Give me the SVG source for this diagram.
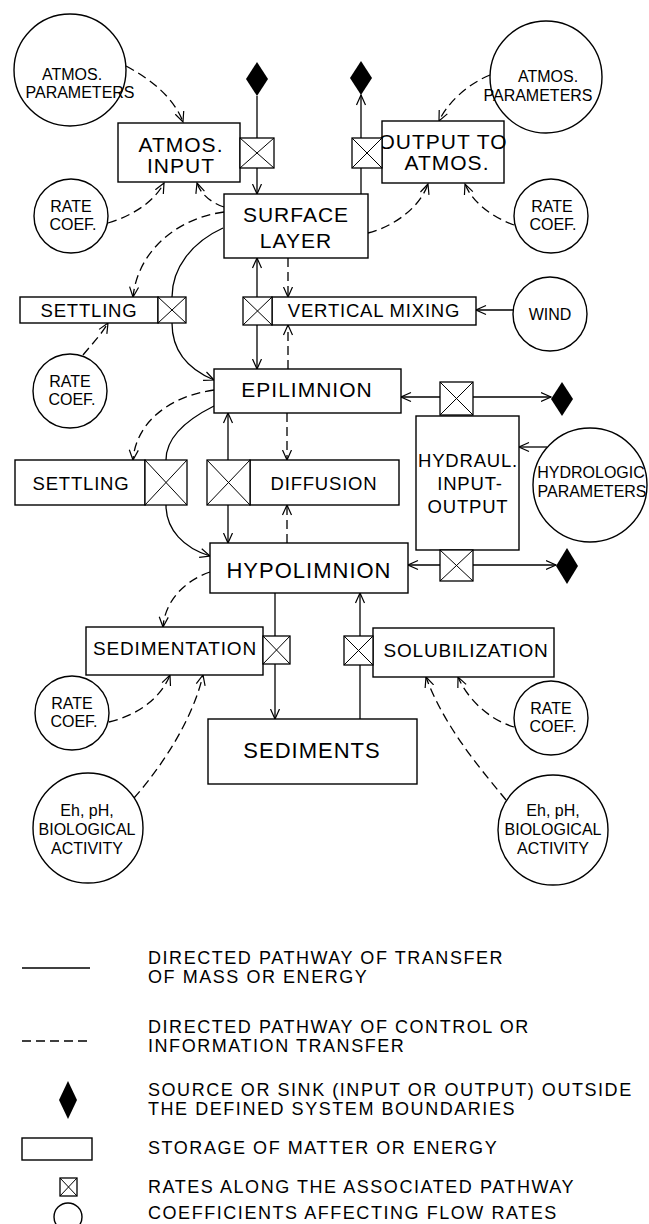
<svg xmlns="http://www.w3.org/2000/svg" width="649" height="1224" viewBox="0 0 649 1224">
<style>
.n{fill:#fff;stroke:#000;stroke-width:1.4}
.r{fill:#fff;stroke:#000;stroke-width:1.3}
.x{fill:none;stroke:#000;stroke-width:1}
.s{fill:#000;stroke:none}
.c{fill:none;stroke:#000;stroke-width:1.3}
.d{stroke-dasharray:9 5}
text{font-family:"Liberation Sans",Arial,sans-serif;fill:#000;text-anchor:middle}
.b{font-size:21px;letter-spacing:1px}
.m{font-size:18.5px;letter-spacing:0.8px}
.sm{font-size:16px}
.lg{font-size:18px;letter-spacing:1.55px;text-anchor:start}
</style>
<defs>
<marker id="ah" markerWidth="12" markerHeight="12" refX="10.5" refY="5" orient="auto-start-reverse" markerUnits="userSpaceOnUse" viewBox="0 0 12 10">
<path d="M0.5,0.5 L10.5,5 L0.5,9.5" fill="none" stroke="#000" stroke-width="1.2"/>
</marker>
</defs>
<g id="connectors">
<path class="c" d="M257,96 L257,194" marker-end="url(#ah)"/>
<path class="c" d="M361,194 L361,95" marker-end="url(#ah)"/>
<path class="c" d="M257,258 L257,369" marker-start="url(#ah)" marker-end="url(#ah)"/>
<path class="c" d="M228,413 L228,543" marker-start="url(#ah)" marker-end="url(#ah)"/>
<path class="c" d="M223,228 C192,242 172,268 172,297 L172,323 C172,352 190,370 214,380" marker-end="url(#ah)"/>
<path class="c" d="M214,406 C186,420 166,438 166,460 L166,505 C166,530 184,548 210,556" marker-end="url(#ah)"/>
<path class="c" d="M401,397 L551,397" marker-start="url(#ah)" marker-end="url(#ah)"/>
<path class="c" d="M408,565 L556,565" marker-start="url(#ah)" marker-end="url(#ah)"/>
<path class="c" d="M547,447 L519,447" marker-end="url(#ah)"/>
<path class="c" d="M513,310 L476,310" marker-end="url(#ah)"/>
<path class="c" d="M275,593 L275,719" marker-end="url(#ah)"/>
<path class="c" d="M360,719 L360,593" marker-end="url(#ah)"/>
<path class="c d" d="M126,66 C152,80 174,98 183,122" marker-end="url(#ah)"/>
<path class="c d" d="M490,75 C468,84 448,102 439,121" marker-end="url(#ah)"/>
<path class="c d" d="M108,223 C132,216 154,202 164,183" marker-end="url(#ah)"/>
<path class="c d" d="M224,207 C212,203 201,195 197,183" marker-end="url(#ah)"/>
<path class="c d" d="M368,233 C395,226 420,207 428,184" marker-end="url(#ah)"/>
<path class="c d" d="M514,225 C492,217 472,202 465,184" marker-end="url(#ah)"/>
<path class="c d" d="M224,212 C178,218 138,250 133,297" marker-end="url(#ah)"/>
<path class="c d" d="M288,258 L288,297" marker-end="url(#ah)"/>
<path class="c d" d="M288,369 L288,325" marker-end="url(#ah)"/>
<path class="c d" d="M83,355 C92,344 101,335 108,323" marker-end="url(#ah)"/>
<path class="c d" d="M214,390 C170,396 136,422 133,460" marker-end="url(#ah)"/>
<path class="c d" d="M287,413 L287,460" marker-end="url(#ah)"/>
<path class="c d" d="M287,543 L287,505" marker-end="url(#ah)"/>
<path class="c d" d="M210,572 C186,580 165,600 163,627" marker-end="url(#ah)"/>
<path class="c d" d="M109,722 C135,716 160,700 170,675" marker-end="url(#ah)"/>
<path class="c d" d="M134,798 C150,780 190,730 203,675" marker-end="url(#ah)"/>
<path class="c d" d="M514,727 C490,720 468,700 458,677" marker-end="url(#ah)"/>
<path class="c d" d="M506,800 C490,780 445,730 426,677" marker-end="url(#ah)"/>
</g>
<g id="atmos-param-left"><circle class="n" cx="70" cy="70" r="56"/><text class="sm" x="72" y="80">ATMOS.</text><text class="sm" x="80" y="98">PARAMETERS</text></g>
<g id="atmos-param-right"><circle class="n" cx="546" cy="77" r="56"/><text class="sm" x="548" y="82">ATMOS.</text><text class="sm" x="538" y="101">PARAMETERS</text></g>
<g id="source-1"><polygon class="s" points="257,62 268,79 257,96 246,79"/></g>
<g id="sink-1"><polygon class="s" points="361,61 372,78 361,95 350,78"/></g>
<g id="atmos-input"><rect class="n" x="118" y="123" width="122" height="59"/><text class="b" x="181" y="152">ATMOS.</text><text class="b" x="181" y="173">INPUT</text>
<rect class="r" x="240" y="138" width="34" height="30"/><path class="x" d="M240,138 L274,168 M274,138 L240,168"/></g>
<g id="output-atmos"><rect class="n" x="382" y="121" width="122" height="62"/><text class="b" x="443" y="149">OUTPUT TO</text><text class="b" x="447" y="170">ATMOS.</text>
<rect class="r" x="352" y="138" width="30" height="30"/><path class="x" d="M352,138 L382,168 M382,138 L352,168"/></g>
<g id="surface-layer"><rect class="n" x="224" y="194" width="144" height="64"/><text class="b" x="296" y="222">SURFACE</text><text class="b" x="296" y="248">LAYER</text></g>
<g id="rate-coef-1"><circle class="n" cx="71" cy="216" r="37"/><text class="sm" x="71" y="212">RATE</text><text class="sm" x="73" y="230">COEF.</text></g>
<g id="rate-coef-2"><circle class="n" cx="551" cy="216" r="37"/><text class="sm" x="552" y="212">RATE</text><text class="sm" x="553" y="230">COEF.</text></g>
<g id="settling-1"><rect class="n" x="20" y="297" width="138" height="26"/><text class="m" x="89" y="317">SETTLING</text>
<rect class="r" x="158" y="297" width="28" height="26"/><path class="x" d="M158,297 L186,323 M186,297 L158,323"/></g>
<g id="vertical-mixing"><rect class="n" x="272" y="297" width="204" height="28"/><text class="m" x="374" y="317">VERTICAL MIXING</text>
<rect class="r" x="243" y="297" width="29" height="28"/><path class="x" d="M243,297 L272,325 M272,297 L243,325"/></g>
<g id="wind"><circle class="n" cx="550" cy="314" r="37"/><text class="sm" x="550" y="320">WIND</text></g>
<g id="rate-coef-3"><circle class="n" cx="70" cy="391" r="37"/><text class="sm" x="70" y="387">RATE</text><text class="sm" x="72" y="405">COEF.</text></g>
<g id="epilimnion"><rect class="n" x="214" y="369" width="187" height="44"/><text class="b" x="307" y="397">EPILIMNION</text></g>
<g id="settling-2"><rect class="n" x="15" y="460" width="130" height="45"/><text class="m" x="81" y="490">SETTLING</text>
<rect class="r" x="145" y="460" width="42" height="45"/><path class="x" d="M145,460 L187,505 M187,460 L145,505"/></g>
<g id="diffusion"><rect class="n" x="250" y="460" width="149" height="45"/><text class="m" x="324" y="490">DIFFUSION</text>
<rect class="r" x="207" y="460" width="43" height="45"/><path class="x" d="M207,460 L250,505 M250,460 L207,505"/></g>
<g id="hydraul"><rect class="n" x="416" y="416" width="103" height="134"/><text class="m" x="468" y="467">HYDRAUL.</text><text class="m" x="470" y="490">INPUT-</text><text class="m" x="468" y="513">OUTPUT</text>
<rect class="r" x="440" y="382" width="33" height="33"/><path class="x" d="M440,382 L473,415 M473,382 L440,415"/>
<rect class="r" x="440" y="550" width="33" height="31"/><path class="x" d="M440,550 L473,581 M473,550 L440,581"/></g>
<g id="sink-2"><polygon class="s" points="562,382 573,399 562,416 551,399"/></g>
<g id="sink-3"><polygon class="s" points="567,548 578,566 567,584 556,566"/></g>
<g id="hydrologic"><circle class="n" cx="590" cy="485" r="57"/><text class="sm" x="591" y="478">HYDROLOGIC</text><text class="sm" x="592" y="497">PARAMETERS</text></g>
<g id="hypolimnion"><rect class="n" x="210" y="543" width="198" height="50"/><text class="b" x="309" y="578" style="font-size:22px">HYPOLIMNION</text></g>
<g id="sedimentation"><rect class="n" x="86" y="627" width="177" height="48"/><text class="m" x="175" y="655" style="font-size:19px">SEDIMENTATION</text>
<rect class="r" x="263" y="636" width="27" height="28"/><path class="x" d="M263,636 L290,664 M290,636 L263,664"/></g>
<g id="solubilization"><rect class="n" x="373" y="628" width="181" height="49"/><text class="m" x="466" y="657" style="font-size:19px">SOLUBILIZATION</text>
<rect class="r" x="344" y="636" width="29" height="29"/><path class="x" d="M344,636 L373,665 M373,636 L344,665"/></g>
<g id="sediments"><rect class="n" x="208" y="719" width="209" height="65"/><text class="b" x="312" y="758" style="font-size:22px">SEDIMENTS</text></g>
<g id="rate-coef-4"><circle class="n" cx="72" cy="713" r="37"/><text class="sm" x="72" y="709">RATE</text><text class="sm" x="74" y="727">COEF.</text></g>
<g id="rate-coef-5"><circle class="n" cx="551" cy="718" r="37"/><text class="sm" x="551" y="714">RATE</text><text class="sm" x="553" y="732">COEF.</text></g>
<g id="eh-left"><circle class="n" cx="88" cy="828" r="55"/><text class="sm" x="87" y="816">Eh, pH,</text><text class="sm" x="87" y="835">BIOLOGICAL</text><text class="sm" x="87" y="854">ACTIVITY</text></g>
<g id="eh-right"><circle class="n" cx="553" cy="830" r="55"/><text class="sm" x="553" y="816">Eh, pH,</text><text class="sm" x="553" y="835">BIOLOGICAL</text><text class="sm" x="553" y="854">ACTIVITY</text></g>
<g id="legend">
<path class="c" d="M22,968 L90,968"/>
<text class="lg" x="148" y="964">DIRECTED PATHWAY OF TRANSFER</text>
<text class="lg" x="148" y="983">OF MASS OR ENERGY</text>
<path class="c d" d="M22,1041 L90,1041"/>
<text class="lg" x="148" y="1033">DIRECTED PATHWAY OF CONTROL OR</text>
<text class="lg" x="148" y="1052">INFORMATION TRANSFER</text>
<polygon class="s" points="68,1081 77,1100 68,1119 59,1100"/>
<text class="lg" x="148" y="1096">SOURCE OR SINK (INPUT OR OUTPUT) OUTSIDE</text>
<text class="lg" x="148" y="1115">THE DEFINED SYSTEM  BOUNDARIES</text>
<rect class="n" x="22" y="1138" width="70" height="22"/>
<text class="lg" x="148" y="1154">STORAGE OF MATTER OR ENERGY</text>
<rect class="r" x="60" y="1178" width="17" height="18"/><path class="x" d="M60,1178 L77,1196 M77,1178 L60,1196"/>
<text class="lg" x="148" y="1193">RATES ALONG THE ASSOCIATED PATHWAY</text>
<circle class="n" cx="68" cy="1217" r="14"/>
<text class="lg" x="148" y="1219">COEFFICIENTS AFFECTING FLOW RATES</text>
</g>
</svg>
